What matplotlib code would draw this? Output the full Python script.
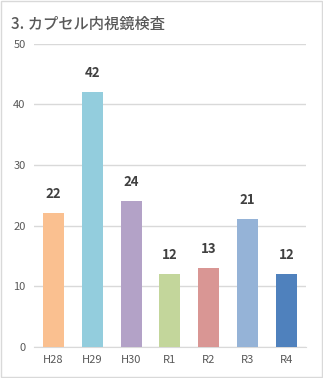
import matplotlib.pyplot as plt
from matplotlib.patches import Rectangle

plt.rcParams['font.family'] = ['Noto Sans CJK JP', 'DejaVu Sans']

categories = ["H28", "H29", "H30", "R1", "R2", "R3", "R4"]
values = [22, 42, 24, 12, 13, 21, 12]
colors = ["#FAC090", "#93CDDD", "#B3A2C7", "#C3D69B", "#D99694", "#95B3D7", "#4F81BD"]
yticks = [0, 10, 20, 30, 40, 50]
title = "3. カプセル内視鏡検査"

fig = plt.figure(figsize=(3.23, 3.78), dpi=100)
ax = fig.add_axes([0.105, 0.083, 0.842, 0.801])

x = range(len(categories))
bars = ax.bar(x, values, width=0.54, color=colors, zorder=3)
for b, v in zip(bars, values):
    ax.text(b.get_x() + b.get_width() / 2, v + 2.0, str(v), ha="center", va="bottom",
            fontsize=9.5, fontweight="bold", color="#404040")

ax.set_ylim(0, 50)
ax.set_xlim(-0.5, len(categories) - 0.5)
ax.set_yticks(yticks)
ax.set_xticks(list(x))
ax.set_xticklabels(categories)
ax.tick_params(axis="both", length=0, labelsize=8, colors="#595959", pad=6)
ax.grid(axis="y", color="#D9D9D9", linewidth=1, zorder=0)
for s in ["top", "right", "left"]:
    ax.spines[s].set_visible(False)
ax.spines["bottom"].set_color("#D9D9D9")

fig.text(0.035, 0.935, title, fontsize=11, color="#595959", fontweight="medium", va="center")

fig.patches.append(Rectangle((0.003, 0.003), 0.994, 0.994, transform=fig.transFigure,
                             fill=False, edgecolor="#D9D9D9", linewidth=1))

fig.savefig("out.png", dpi=100)
